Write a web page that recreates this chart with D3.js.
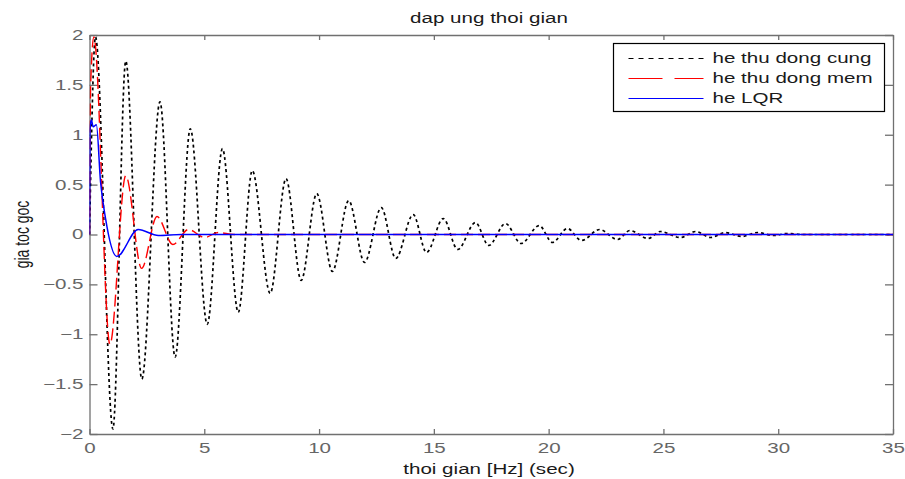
<!DOCTYPE html>
<html>
<head>
    <meta charset="utf-8">
    <title>dap ung thoi gian</title>
    <script src="https://d3js.org/d3.v7.min.js"></script>
    <style>
        body, html {
            margin: 0;
            background: #fff;
            overflow: hidden;
        }
        text {
            font-family: Arial, "Liberation Sans", sans-serif;
            font-size: 14px;
            fill: #1a1a1a;
        }
        .axis path, .axis line {
            stroke: #707070;
            stroke-width: 1.3;
        }
        .axis text {
            fill: #666;
        }
    </style>
</head>
<body>
<div id="chart"></div>
<script>
    // he thu dong cung (black dotted) - peaks and troughs
    const cungT = [0, 0.26, 1.02, 1.58, 2.28, 3.07, 3.73, 4.39, 5.13, 5.79, 6.48, 7.09, 7.87, 8.56, 9.22, 9.90, 10.58,
                   11.29, 11.98, 12.71, 13.34, 14.10, 14.68, 15.41, 16.04, 16.81, 17.39, 18.12, 18.80, 19.59, 20.16,
                   20.82, 21.43, 22.22, 23.0, 23.54, 24.33, 24.86, 25.74, 26.4, 27.05, 27.7, 28.4, 29.1, 29.8, 30.4, 31.1, 35];
    const cungV = [0, 1.98, -1.95, 1.74, -1.45, 1.33, -1.23, 1.06, -0.90, 0.86, -0.78, 0.64, -0.59, 0.56, -0.46, 0.41, -0.37,
                   0.34, -0.28, 0.27, -0.24, 0.20, -0.18, 0.16, -0.15, 0.12, -0.11, 0.11, -0.09, 0.09, -0.08,
                   0.06, -0.06, 0.05, -0.05, 0.04, -0.04, 0.03, -0.03, 0.03, -0.03, 0.02, -0.02, 0.02, -0.01, 0.01, 0, 0];

    // he thu dong mem (red dashed)
    const memT = [0, 0.05, 0.19, 0.89, 1.58, 2.27, 2.94, 3.63, 4.31, 5.02, 5.6, 6.3, 35];
    const memV = [0, 1.5, 1.98, -1.10, 0.59, -0.34, 0.18, -0.10, 0.05, -0.03, 0.02, 0, 0];

    // he LQR (blue solid)
    const lqrT = [0, 0.02, 0.08, 0.16, 0.3, 0.48, 0.7, 1.19, 2.12, 3.0, 4.0, 35];
    const lqrV = [0, 1.05, 1.15, 1.08, 1.1, 0.53, 0.16, -0.22, 0.05, -0.01, 0, 0];

    const xTicks = [0, 5, 10, 15, 20, 25, 30, 35];
    const yTicks = [-2, -1.5, -1, -0.5, 0, 0.5, 1, 1.5, 2];
    const legendLabels = ["he thu dong cung", "he thu dong mem", "he LQR"];

    const width = 905, height = 479;
    const margin = {top: 35, right: 12, bottom: 45, left: 89.5};
    const w = width - margin.left - margin.right,
          h = height - margin.top - margin.bottom;
    const sx = 1.47; // the picture is stretched sideways, text too

    // widen a text element sideways around its own x anchor
    function stretch(sel) {
        sel.each(function () {
            const t = d3.select(this);
            const x0 = +t.attr("x") || 0;
            t.attr("transform", `translate(${x0},0) scale(${sx},1) translate(${-x0},0)`);
        });
    }

    const svg = d3.select("#chart").append("svg")
        .attr("width", width)
        .attr("height", height);

    svg.append("defs").append("clipPath").attr("id", "clip")
        .append("rect").attr("width", w).attr("height", h);

    const g = svg.append("g").attr("transform", `translate(${margin.left},${margin.top})`);

    const x = d3.scaleLinear().domain([0, 35]).range([0, w]);
    const y = d3.scaleLinear().domain([-2, 2]).range([h, 0]);
    const fmt = d => String(d).replace("-", "\u2212");

    // axes, MATLAB style: ticks pointing inward on all four sides
    g.append("g").attr("class", "axis").attr("transform", `translate(0,${h})`)
        .call(d3.axisBottom(x).tickValues(xTicks).tickSize(-5).tickPadding(9).tickSizeOuter(0).tickFormat(fmt))
        .selectAll("text").call(stretch);
    g.append("g").attr("class", "axis")
        .call(d3.axisTop(x).tickValues(xTicks).tickSize(-5).tickFormat("").tickSizeOuter(0));
    g.append("g").attr("class", "axis")
        .call(d3.axisLeft(y).tickValues(yTicks).tickSize(-8).tickPadding(6).tickSizeOuter(0).tickFormat(fmt))
        .selectAll("text").call(stretch);
    g.append("g").attr("class", "axis").attr("transform", `translate(${w},0)`)
        .call(d3.axisRight(y).tickValues(yTicks).tickSize(-8).tickFormat("").tickSizeOuter(0));

    const line = d3.line()
        .x(d => x(d[0]))
        .y(d => y(d[1]))
        .curve(d3.curveMonotoneX);

    const series = [
        {t: cungT, v: cungV, color: "#000", dash: "3,3", lw: 1.7},
        {t: memT, v: memV, color: "#f00", dash: "12,5", lw: 1.4},
        {t: lqrT, v: lqrV, color: "#00f", dash: null, lw: 1.5}
    ];

    const plot = g.append("g").attr("clip-path", "url(#clip)");
    series.forEach(s => {
        plot.append("path")
            .datum(s.t.map((t, i) => [t, s.v[i]]))
            .attr("d", line)
            .attr("fill", "none")
            .attr("stroke", s.color)
            .attr("stroke-width", s.lw)
            .attr("stroke-dasharray", s.dash);
    });

    // title and axis labels
    svg.append("text")
        .attr("x", 489).attr("y", 23)
        .attr("text-anchor", "middle")
        .text("dap ung thoi gian")
        .call(stretch);
    svg.append("text")
        .attr("x", 489).attr("y", 474)
        .attr("text-anchor", "middle")
        .text("thoi gian [Hz] (sec)")
        .call(stretch);
    svg.append("text")
        .attr("transform", `translate(29,${margin.top + h / 2}) scale(${sx},1) rotate(-90)`)
        .attr("text-anchor", "middle")
        .text("gia toc goc");

    // legend
    const legend = svg.append("g").attr("transform", "translate(613.5,43.5)");
    legend.append("rect")
        .attr("width", 271).attr("height", 68)
        .attr("fill", "#fff").attr("stroke", "#000").attr("stroke-width", 1.2);
    const legendDash = ["5,5", "34,12", null];
    legendLabels.forEach((lab, i) => {
        const ly = 15 + i * 20;
        legend.append("line")
            .attr("x1", 15).attr("x2", 90).attr("y1", ly).attr("y2", ly)
            .attr("stroke", series[i].color)
            .attr("stroke-width", 1)
            .attr("stroke-dasharray", legendDash[i]);
        legend.append("text")
            .attr("x", 99).attr("y", ly + 5)
            .text(lab)
            .call(stretch);
    });
</script>
</body>
</html>
